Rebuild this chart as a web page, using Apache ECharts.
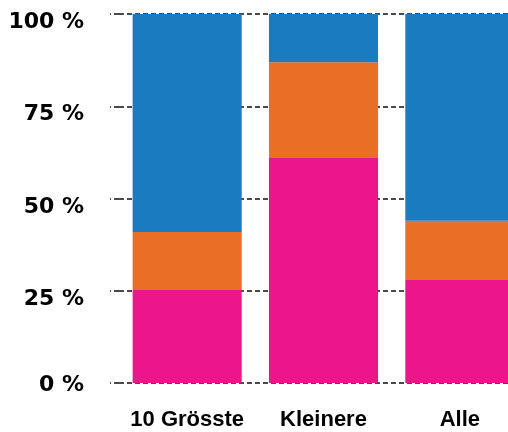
<!DOCTYPE html>
<html>
<head>
<meta charset="utf-8">
<script src="https://cdn.jsdelivr.net/npm/echarts@6/dist/echarts.min.js"></script>
<style>
  html, body { margin: 0; padding: 0; overflow: hidden; background: #fff; }
  #chart { width: 528px; height: 432px; }
</style>
</head>
<body>
<div id="chart"></div>
<script>
// Shares per group, in percent (stacked to 100)
const categories = ['10 Grösste', 'Kleinere', 'Alle'];
const pinkShare   = [25.4, 61.2, 27.9];
const orangeShare = [15.5, 25.7, 16.1];
const blueShare   = [59.1, 13.1, 56.0];
const yTicks = [0, 25, 50, 75, 100];

const colors = { pink: '#ec1589', orange: '#e96f26', blue: '#1b7bc1' };

const chart = echarts.init(document.getElementById('chart'), null, { renderer: 'canvas' });

function barSeries(name, data, color) {
  return {
    name, type: 'bar', stack: 'total', data,
    barWidth: '80%',
    itemStyle: { color },
    emphasis: { disabled: true }
  };
}

const dashed = { color: '#111', width: 1.5, type: [5, 3] };
const yLabelFont = { color: '#000', fontFamily: 'DejaVu Sans', fontWeight: 'bold', fontSize: 22 };

chart.setOption({
  animation: false,
  grid: { left: 119, right: 0, top: 14, bottom: 49, outerBoundsMode: 'none', containLabel: false },
  xAxis: {
    type: 'category',
    data: categories,
    axisLine: { show: false },
    axisTick: { show: false },
    axisLabel: {
      interval: 0,
      margin: 26,
      color: '#000',
      fontFamily: 'Liberation Sans, Arial, sans-serif',
      fontWeight: 'bold',
      fontSize: 22
    }
  },
  yAxis: {
    type: 'value',
    min: yTicks[0],
    max: yTicks[yTicks.length - 1],
    interval: 25,
    axisLine: { show: false },
    axisTick: { show: true, inside: false, length: 9, lineStyle: dashed },
    splitLine: { show: true, lineStyle: dashed },
    axisLabel: {
      margin: 35,
      formatter: v => (v === 0 ? '{lo|' + v + ' %}' : '{hi|' + v + ' %}'),
      rich: {
        hi: Object.assign({ padding: [17, 0, 0, 0] }, yLabelFont),
        lo: Object.assign({ padding: [5, 0, 0, 0] }, yLabelFont)
      }
    }
  },
  series: [
    barSeries('pink', pinkShare, colors.pink),
    barSeries('orange', orangeShare, colors.orange),
    barSeries('blue', blueShare, colors.blue)
  ]
});
</script>
</body>
</html>
